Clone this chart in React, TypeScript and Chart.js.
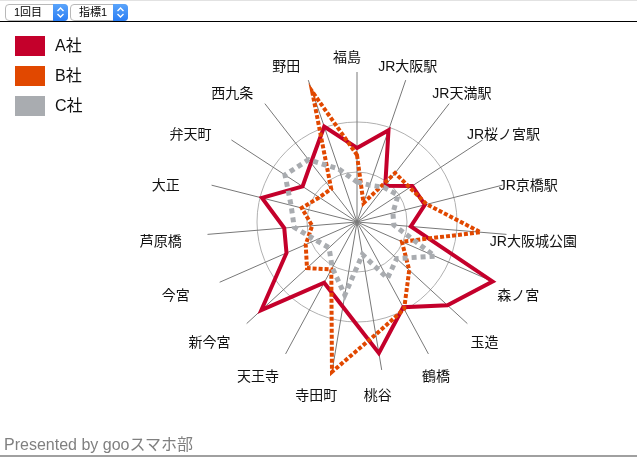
import React, { useEffect, useRef } from "react";
import { Chart, registerables } from "chart.js";

Chart.register(...registerables);

const categories = [
  "福島", "JR大阪駅", "JR天満駅", "JR桜ノ宮駅", "JR京橋駅", "JR大阪城公園", "森ノ宮",
  "玉造", "鶴橋", "桃谷", "寺田町", "天王寺", "新今宮", "今宮", "芦原橋", "大正",
  "弁天町", "西九条", "野田",
];
const seriesNames = ["A社", "B社", "C社"];
const valuesA = [74, 97, 46, 66, 70, 54, 148, 123, 97, 133, 86, 69, 130, 77, 73, 98, 65, 75, 101];
const valuesB = [67, 20, 62, 63, 72, 124, 49, 71, 99, 114, 152, 54, 68, 56, 45, 57, 45, 42, 138];
const valuesC = [40, 39, 44, 49, 37, 37, 85, 54, 64, 33, 74, 52, 38, 45, 63, 68, 86, 79, 56];
const scaleMax = 150;
const scaleStep = 50;
const selectLabels = ["1回目", "指標1"];
const footerText = "Presented by gooスマホ部";

const colors = ["#c4002b", "#e14800", "#a9acb0"];
const FONT = '"Liberation Sans", "Noto Sans CJK JP", sans-serif';

const outerLabels = {
  id: "outerLabels",
  afterDraw(chart: any) {
    const s = chart.scales.r;
    const ctx = chart.ctx;
    const R = s.drawingArea;
    ctx.save();
    ctx.font = "14px " + FONT;
    ctx.fillStyle = "#111";
    ctx.textAlign = "center";
    ctx.textBaseline = "middle";
    categories.forEach((lab, i) => {
      const p = s.getPointPosition(i, R);
      const ux = (p.x - s.xCenter) / R;
      const uy = (p.y - s.yCenter) / R;
      ctx.fillText(lab, s.xCenter - 10 + ux * 187, s.yCenter + 6 + uy * 170);
    });
    ctx.restore();
  },
};

function SelectBox({ left, width, text }: { left: number; width: number; text: string }) {
  return (
    <div
      style={{
        position: "absolute",
        left,
        top: 4,
        width,
        height: 17,
        boxSizing: "border-box",
        border: "1px solid #b8b8b8",
        borderRadius: 4,
        background: "#fff",
        fontFamily: FONT,
        fontSize: 11,
        lineHeight: "15px",
        color: "#000",
      }}
    >
      <span style={{ position: "absolute", left: 8, top: 0 }}>{text}</span>
      <div
        style={{
          position: "absolute",
          right: -1,
          top: -1,
          width: 15,
          height: 17,
          borderRadius: "0 4px 4px 0",
          background: "linear-gradient(#5aa4fb, #2a7df3)",
        }}
      >
        <svg width="15" height="17" style={{ position: "absolute", left: 0, top: 0 }}>
          <polyline points="4.5,7 7.5,4 10.5,7" fill="none" stroke="#fff" strokeWidth="1.4" />
          <polyline points="4.5,10 7.5,13 10.5,10" fill="none" stroke="#fff" strokeWidth="1.4" />
        </svg>
      </div>
    </div>
  );
}

export default function App() {
  const canvasRef = useRef<HTMLCanvasElement | null>(null);

  useEffect(() => {
    if (!canvasRef.current) return;
    const mk = (i: number, data: number[], extra: any) => ({
      label: seriesNames[i],
      data,
      borderColor: colors[i],
      backgroundColor: "rgba(0,0,0,0)",
      fill: false,
      pointRadius: 0,
      pointHoverRadius: 0,
      tension: 0,
      clip: false,
      ...extra,
    });
    const chart = new Chart(canvasRef.current, {
      type: "radar",
      data: {
        labels: categories,
        datasets: [
          mk(0, valuesA, { borderWidth: 4, borderJoinStyle: "miter", order: 3 }),
          mk(1, valuesB, { borderWidth: 4, borderDash: [4, 2], order: 2 }),
          mk(2, valuesC, { borderWidth: 5, borderDash: [5, 4], order: 1 }),
        ],
      },
      options: {
        responsive: false,
        animation: false,
        events: [],
        layout: { padding: { left: 207, right: 130, top: 72, bottom: 85 } },
        plugins: { legend: { display: false }, tooltip: { enabled: false } },
        scales: {
          r: {
            min: 0,
            max: scaleMax,
            ticks: { display: false, stepSize: scaleStep },
            grid: {
              circular: true,
              color: (c: any) =>
                c.tick && c.tick.value >= scaleMax ? "rgba(0,0,0,0)" : "#b0b0b0",
              lineWidth: 1,
            },
            angleLines: { color: "#787878", lineWidth: 1 },
            pointLabels: { display: false },
          },
        },
      } as any,
      plugins: [outerLabels],
    });
    return () => chart.destroy();
  }, []);

  return (
    <div
      style={{
        position: "fixed",
        left: 0,
        top: 0,
        width: 637,
        height: 457,
        background: "#fff",
        overflow: "hidden",
      }}
    >
      <canvas ref={canvasRef} width={637} height={457} style={{ position: "absolute", left: 0, top: 0 }} />
      <div style={{ position: "absolute", left: 0, top: 0, width: 637, height: 1, background: "#e2e2e2" }} />
      <SelectBox left={5} width={63} text={selectLabels[0]} />
      <SelectBox left={70} width={58} text={selectLabels[1]} />
      <div style={{ position: "absolute", left: 0, top: 21, width: 637, height: 1, background: "#000" }} />
      {seriesNames.map((n, i) => (
        <div key={n}>
          <div
            style={{
              position: "absolute",
              left: 15,
              top: 36 + i * 30,
              width: 30,
              height: 20,
              background: colors[i],
            }}
          />
          <div
            style={{
              position: "absolute",
              left: 55,
              top: 37 + i * 30,
              fontFamily: FONT,
              fontSize: 16,
              lineHeight: "18px",
              color: "#111",
              whiteSpace: "nowrap",
            }}
          >
            {n}
          </div>
        </div>
      ))}
      <div
        style={{
          position: "absolute",
          left: 4,
          top: 437,
          fontFamily: FONT,
          fontSize: 16,
          lineHeight: "16px",
          color: "#808080",
          whiteSpace: "nowrap",
        }}
      >
        {footerText}
      </div>
      <div style={{ position: "absolute", left: 0, top: 455, width: 637, height: 2, background: "#a0a0a0" }} />
    </div>
  );
}
